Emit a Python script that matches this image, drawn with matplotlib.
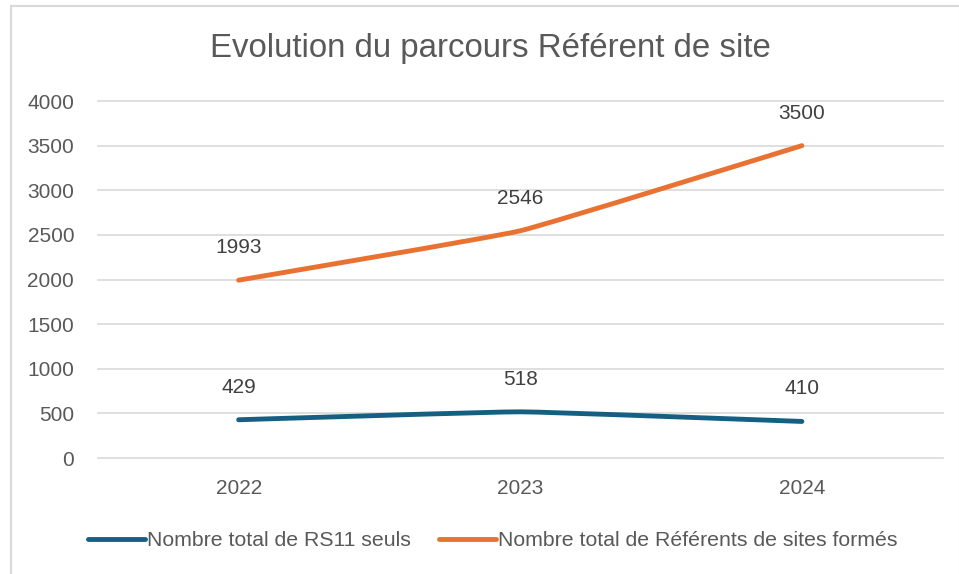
import matplotlib
matplotlib.use('Agg')
import matplotlib.pyplot as plt
from matplotlib.path import Path
from matplotlib.patches import PathPatch, Rectangle
import numpy as np

years = ['2022', '2023', '2024']
rs11_seuls = [429, 518, 410]
referents_formes = [1993, 2546, 3500]
series_names = ['Nombre total de RS11 seuls', 'Nombre total de Référents de sites formés']
series_colors = ['#156082', '#E97132']
yticks = [0, 500, 1000, 1500, 2000, 2500, 3000, 3500, 4000]

plt.rcParams['font.family'] = ['Liberation Sans', 'DejaVu Sans']

txt = '#595959'


def smooth_path(xs, ys, t=0.15):
    # Excel style smoothed line: cubic bezier through the points (Catmull-Rom)
    pts = list(zip(xs, ys))
    verts = [pts[0]]
    codes = [Path.MOVETO]
    for i in range(len(pts) - 1):
        p0 = pts[i - 1] if i > 0 else pts[i]
        p1 = pts[i]
        p2 = pts[i + 1]
        p3 = pts[i + 2] if i + 2 < len(pts) else pts[i + 1]
        c1 = (p1[0] + (p2[0] - p0[0]) * t / 3, p1[1] + (p2[1] - p0[1]) * t / 3)
        c2 = (p2[0] - (p3[0] - p1[0]) * t / 3, p2[1] - (p3[1] - p1[1]) * t / 3)
        verts += [c1, c2, p2]
        codes += [Path.CURVE4] * 3
    return Path(verts, codes)


fig = plt.figure(figsize=(9.59, 5.74), dpi=100)
ax = fig.add_axes([0.102, 0.202, 0.881, 0.622])

x = np.arange(len(years)) + 0.5
for vals, col, name in zip([rs11_seuls, referents_formes], series_colors, series_names):
    ax.add_patch(PathPatch(smooth_path(x, vals), facecolor='none', edgecolor=col,
                           lw=3.5, capstyle='round', joinstyle='round'))
    ax.plot([], [], color=col, lw=3.5, solid_capstyle='round', label=name)
    for xi, v in zip(x, vals):
        ax.annotate(str(v), (xi, v), xytext=(0, 23.5), textcoords='offset points',
                    ha='center', va='center', fontsize=15, color='#404040')

ax.set_xlim(0, 3)
ax.set_ylim(0, 4000)
ax.set_yticks(yticks)
ax.set_xticks(x)
ax.set_xticklabels(years)
ax.grid(axis='y', color='#D9D9D9', lw=1.2)
for gl in ax.get_ygridlines():
    gl.set_clip_on(False)
ax.set_axisbelow(True)
for s in ax.spines.values():
    s.set_visible(False)
ax.tick_params(length=0, labelsize=15, labelcolor=txt)
ax.tick_params(axis='y', pad=17)
ax.tick_params(axis='x', pad=15)

fig.text(0.511, 0.915, 'Evolution du parcours Référent de site', ha='center', va='center',
         fontsize=23.8, color=txt)

leg = fig.legend(loc='center', bbox_to_anchor=(0.5136, 0.0575), ncol=2, frameon=False,
                 prop={'size': 15.3}, handlelength=2.7, handletextpad=0.1,
                 columnspacing=1.3)
for t in leg.get_texts():
    t.set_color(txt)

fig.patches.append(Rectangle((0.011, -0.01), 0.99, 1.0, transform=fig.transFigure,
                             fill=False, edgecolor='#D9D9D9', lw=1.5))

fig.savefig('out.png', dpi=100)
